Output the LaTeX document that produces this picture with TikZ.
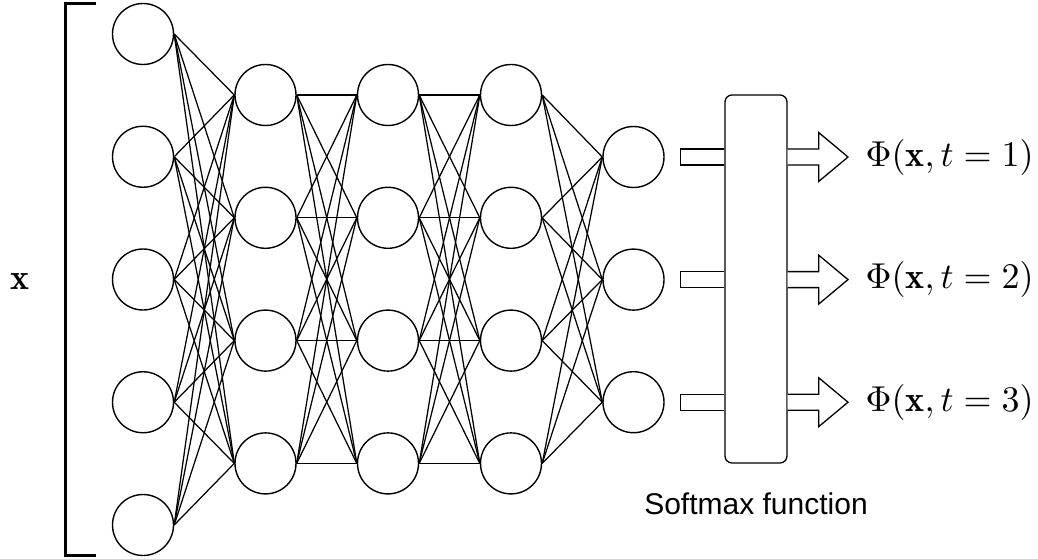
\documentclass[tikz,border=0pt]{standalone}
\usepackage{amsmath}
\usepackage{fontspec}
\newfontfamily\captionfont{Liberation Sans}
\usepackage{tikz}
\usetikzlibrary{calc,positioning}

\tikzset{
    neuron/.style={draw, circle, line width=1.4pt, minimum size=61pt, inner sep=0pt},
    link/.style={line width=1.25pt},
    blockarrow/.style={draw, line width=1.3pt, fill=white, line join=miter},
    bigmath/.style={inner sep=0pt, scale=3.6},
}

\begin{document}
\begin{tikzpicture}[x=1pt, y=-1pt]
    \useasboundingbox (0,0) rectangle (1038,559);

    % layers
    \foreach \k in {1,...,5}
        \node[neuron] (in\k) at (143, {34+(\k-1)*122.75}) {};
    \foreach \k in {1,...,4} {
        \node[neuron] (ha\k) at (265.5, {95+(\k-1)*122.8}) {};
        \node[neuron] (hb\k) at (388, {95+(\k-1)*122.8}) {};
        \node[neuron] (hc\k) at (511, {95+(\k-1)*122.8}) {};
    }
    \foreach \k in {1,2,3}
        \node[neuron] (out\k) at (633.5, {157+(\k-1)*122.6}) {};

    % fully connected
    \foreach \a in {1,...,5}
        \foreach \b in {1,...,4}
            \draw[link] (in\a.east) -- (ha\b.west);
    \foreach \a in {1,...,4}
        \foreach \b in {1,...,4} {
            \draw[link] (ha\a.east) -- (hb\b.west);
            \draw[link] (hb\a.east) -- (hc\b.west);
        }
    \foreach \a in {1,...,4}
        \foreach \b in {1,2,3}
            \draw[link] (hc\a.east) -- (out\b.west);

    % input bracket
    \node[bigmath] (xlab) at (20.5, 282) {$\mathbf{x}$};
    \coordinate (btop) at (96, 3.5);
    \coordinate (bbot) at (96, 555);
    \draw[line width=3pt] (btop) -- (btop -| 65.5,0) -- (bbot -| 65.5,0) -- (bbot);

    % softmax
    \node[draw, line width=1.3pt, rounded corners=7pt, minimum width=62pt,
          minimum height=368pt] (sm) at (756, 279) {};
    \node[inner sep=0pt, below=29pt of sm, font=\captionfont\fontsize{30}{34}\selectfont]
        (smlabel) {Softmax function};

    \foreach \k in {1,2,3} {
        \node[bigmath, anchor=west] (phi\k) at (865, {157+(\k-1)*122.6}) {$\Phi(\mathbf{x}, t=\k)$};
        \coordinate (a\k) at ($(out\k.east)+(16,0)$);
        \coordinate (b\k) at (out\k.east -| sm.west);
        \coordinate (c\k) at (out\k.east -| sm.east);
        \coordinate (tip\k) at ($(phi\k.west)+(-17,0)$);
        \draw[blockarrow] ($(b\k)+(0,-8)$) -- ($(a\k)+(0,-8)$) -- ($(a\k)+(0,8)$) -- ($(b\k)+(0,8)$);
        \draw[blockarrow] ($(c\k)+(0,-8)$) -- ($(c\k)+(31,-8)$) -- ($(c\k)+(31,-24.5)$)
            -- (tip\k) -- ($(c\k)+(31,24.5)$) -- ($(c\k)+(31,8)$) -- ($(c\k)+(0,8)$);
    }
\end{tikzpicture}
\end{document}
